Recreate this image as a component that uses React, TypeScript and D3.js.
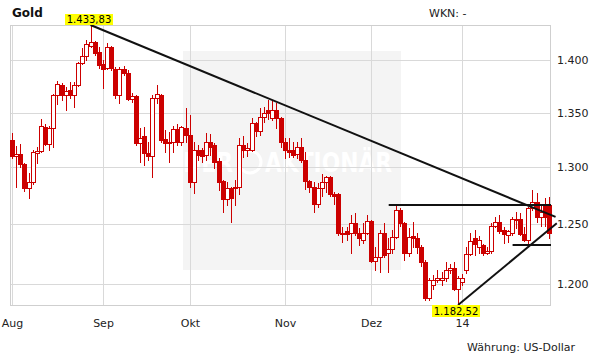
import React from 'react';
import * as d3 from 'd3';

const W = 611;
const H = 364;

// Trading days (Mon–Fri) Aug 1 2013 – Jan 30 2014
const startDate = new Date(2013, 7, 1);
const endDate = new Date(2014, 0, 31);

const monthLabels = ['Aug', 'Sep', 'Okt', 'Nov', 'Dez', '14'];
const yTickValues = [1200, 1250, 1300, 1350, 1400];

const open = [1325,1310,1312,1303,1282,1287,1313,1315,1337,1321,1336,1366,1376,1366,1371,1366,1376,1397,1404,1413,1417,1407,1396,1392,1412,1391,1366,1391,1387,1363,1365,1322,1328,1313,1310,1364,1366,1326,1323,1323,1335,1323,1336,1329,1287,1316,1316,1311,1323,1320,1306,1288,1272,1282,1282,1283,1320,1316,1316,1340,1333,1346,1352,1345,1352,1345,1323,1316,1316,1312,1318,1307,1288,1283,1268,1282,1287,1291,1276,1276,1242,1244,1243,1251,1243,1237,1243,1253,1219,1222,1243,1226,1229,1239,1262,1251,1226,1240,1238,1231,1218,1188,1199,1203,1203,1205,1211,1213,1196,1201,1211,1225,1238,1231,1232,1226,1227,1249,1252,1245,1241,1243,1255,1255,1242,1237,1264,1269,1256,1267,1267];
const high = [1331,1319,1321,1304,1295,1316,1318,1344,1339,1338,1367,1380,1378,1374,1379,1379,1398,1411,1419,1433.83,1418,1412,1400,1416,1413,1393,1393,1394,1390,1368,1366,1336,1337,1323,1366,1376,1367,1334,1332,1338,1339,1338,1354,1348,1323,1320,1317,1331,1330,1322,1308,1289,1287,1283,1289,1327,1328,1322,1345,1341,1354,1355,1362,1362,1359,1346,1327,1327,1323,1323,1327,1314,1289,1287,1286,1294,1292,1292,1278,1277,1248,1248,1258,1260,1247,1251,1258,1254,1231,1245,1251,1238,1245,1267,1264,1252,1247,1252,1243,1232,1220,1205,1207,1211,1210,1218,1216,1218,1206,1208,1231,1243,1245,1240,1233,1231,1251,1256,1258,1248,1245,1256,1261,1260,1248,1265,1280,1277,1267,1273,1274];
const low = [1308,1283,1300,1279,1273,1285,1304,1314,1320,1316,1318,1358,1362,1352,1364,1355,1375,1396,1400,1412,1405,1392,1373,1391,1390,1364,1359,1385,1362,1360,1320,1305,1302,1307,1291,1359,1323,1314,1305,1314,1320,1320,1323,1283,1277,1307,1305,1307,1311,1299,1280,1261,1267,1252,1267,1276,1309,1310,1315,1328,1329,1341,1344,1343,1336,1318,1308,1309,1309,1308,1305,1281,1278,1261,1265,1275,1278,1275,1268,1241,1235,1237,1226,1241,1232,1234,1242,1218,1211,1210,1222,1210,1226,1238,1249,1220,1223,1231,1226,1215,1187,1187,1196,1201,1199,1202,1209,1195,1182.52,1199,1209,1224,1224,1226,1224,1225,1226,1248,1243,1234,1235,1241,1247,1241,1236,1232,1262,1252,1249,1249,1238];
const close = [1310,1312,1303,1282,1287,1314,1315,1338,1321,1336,1366,1377,1366,1370,1366,1376,1397,1404,1415,1417,1406,1395,1391,1412,1392,1366,1391,1387,1363,1365,1322,1327,1313,1310,1364,1367,1325,1322,1322,1335,1323,1337,1329,1287,1316,1311,1310,1323,1318,1305,1287,1272,1282,1273,1283,1320,1316,1317,1340,1333,1346,1350,1350,1352,1345,1323,1316,1314,1311,1318,1307,1288,1283,1268,1282,1287,1291,1276,1275,1243,1243,1242,1251,1243,1238,1243,1253,1219,1222,1243,1224,1229,1239,1262,1251,1226,1239,1238,1231,1218,1188,1203,1203,1205,1205,1211,1213,1196,1205,1205,1225,1236,1233,1237,1226,1227,1249,1252,1244,1242,1244,1255,1254,1242,1237,1264,1269,1256,1261,1256,1243];

// Drawn lines: [dayIndex, price] endpoints
const resistanceLine = [[19, 1433.83], [131.6, 1256.4]];
const supportLine = [[108, 1182.52], [131.9, 1251]];
const upperLevel = [[91.2, 1266.8], [130.5, 1266.8]];
const lowerLevel = [[121.2, 1232.4], [130.5, 1232.4]];

const RED = '#cc0000';
const FONT = '"DejaVu Sans", Verdana, sans-serif';

const de = d3.formatLocale({ decimal: ',', thousands: '.', grouping: [3], currency: ['', ' €'] });
const fmtTick = de.format(',.0f');
const fmtVal = de.format(',.2f');

export default function App() {
  const days = d3.timeDay.range(startDate, endDate).filter(d => d.getDay() !== 0 && d.getDay() !== 6);
  const n = days.length;
  const left = 10, right = 551, top = 25, bottom = 305;

  const x = d3.scaleLinear().domain([-0.5, n - 0.5]).range([left, right]);
  const [minL, maxH] = [d3.min(low) as number, d3.max(high) as number];
  const y = d3.scaleLog().domain([minL, maxH]).range([bottom, top]);

  const monthStarts: number[] = [];
  days.forEach((d, i) => {
    if (i === 0 || d.getMonth() !== days[i - 1].getMonth()) monthStarts.push(i);
  });

  const maxIdx = high.indexOf(maxH);
  const minIdx = low.indexOf(minL);

  const lineGen = d3.line<number[]>().x(p => x(p[0])).y(p => y(p[1]));
  const drawn = [resistanceLine, supportLine, upperLevel, lowerLevel];

  const r = (v: number) => Math.round(v);

  return (
    <svg width={W} height={H} style={{ position: 'absolute', left: 0, top: 0, display: 'block', background: '#fff' }}>
      <rect x={0} y={0} width={W} height={H} fill="#fff" />
      {/* watermark */}
      <rect x={183} y={51} width={218} height={219} fill="#f4f4f4" />
      <g fill="#fff" fontFamily={FONT} fontWeight="bold" fontSize={27}>
        <text x={183} y={172} textLength={50} lengthAdjust="spacingAndGlyphs">DER</text>
        <circle cx={250} cy={162} r={11} fill="none" stroke="#fff" strokeWidth={3} />
        <text x={265} y={172} textLength={127} lengthAdjust="spacingAndGlyphs">AKTIONÄR</text>
      </g>
      {/* grid */}
      <g stroke="#d9d9d9" strokeWidth={1}>
        {yTickValues.map(v => (
          <line key={'h' + v} x1={left} x2={right} y1={r(y(v)) + 0.5} y2={r(y(v)) + 0.5} />
        ))}
        {monthStarts.map(i => (
          <line key={'v' + i} x1={r(x(i)) + 0.5} x2={r(x(i)) + 0.5} y1={top} y2={bottom} />
        ))}
      </g>
      <rect x={left + 0.5} y={top + 0.5} width={right - left - 1} height={bottom - top} fill="none" stroke="#cfcfcf" />
      {/* candles */}
      <g>
        {open.map((o, i) => {
          const c = close[i];
          const xc = r(x(i));
          const yt = r(y(Math.max(o, c)));
          const yb = r(y(Math.min(o, c)));
          const up = c >= o;
          return (
            <g key={i}>
              <line x1={xc + 0.5} x2={xc + 0.5} y1={r(y(high[i]))} y2={r(y(low[i])) + 1} stroke={RED} strokeWidth={1} />
              {up ? (
                <rect x={xc - 1.5} y={yt + 0.5} width={4} height={Math.max(yb - yt, 1)} fill="#fff" stroke={RED} strokeWidth={1} />
              ) : (
                <rect x={xc - 2} y={yt} width={5} height={Math.max(yb - yt + 1, 2)} fill={RED} />
              )}
            </g>
          );
        })}
      </g>
      {/* drawn trend lines */}
      <g fill="none" stroke="#111" strokeWidth={2}>
        {drawn.map((l, k) => <path key={k} d={lineGen(l) || ''} />)}
      </g>
      {/* value labels */}
      <g fontFamily={FONT} fontSize={10} fill="#000">
        <rect x={r(x(maxIdx)) - 26} y={14} width={48} height={11} fill="#ffff00" />
        <text x={r(x(maxIdx)) - 2} y={23} textAnchor="middle">{fmtVal(maxH)}</text>
        <rect x={r(x(minIdx)) - 26} y={305} width={48} height={12} fill="#ffff00" />
        <text x={r(x(minIdx)) - 2} y={315} textAnchor="middle">{fmtVal(minL)}</text>
      </g>
      {/* axes labels */}
      <g fontFamily={FONT} fontSize={11} fill="#222">
        {yTickValues.map(v => (
          <text key={'yl' + v} x={557} y={r(y(v)) + 4}>{fmtTick(v)}</text>
        ))}
        {monthStarts.map((i, k) => (
          <text key={'xl' + i} x={r(x(i)) + 0.5} y={327} textAnchor="middle">{monthLabels[k]}</text>
        ))}
        <text x={429} y={17}>WKN: -</text>
        <text x={467} y={351}>Währung: US-Dollar</text>
      </g>
      <text x={12} y={17} fontFamily={FONT} fontSize={12} fontWeight="bold" fill="#111">Gold</text>
    </svg>
  );
}
